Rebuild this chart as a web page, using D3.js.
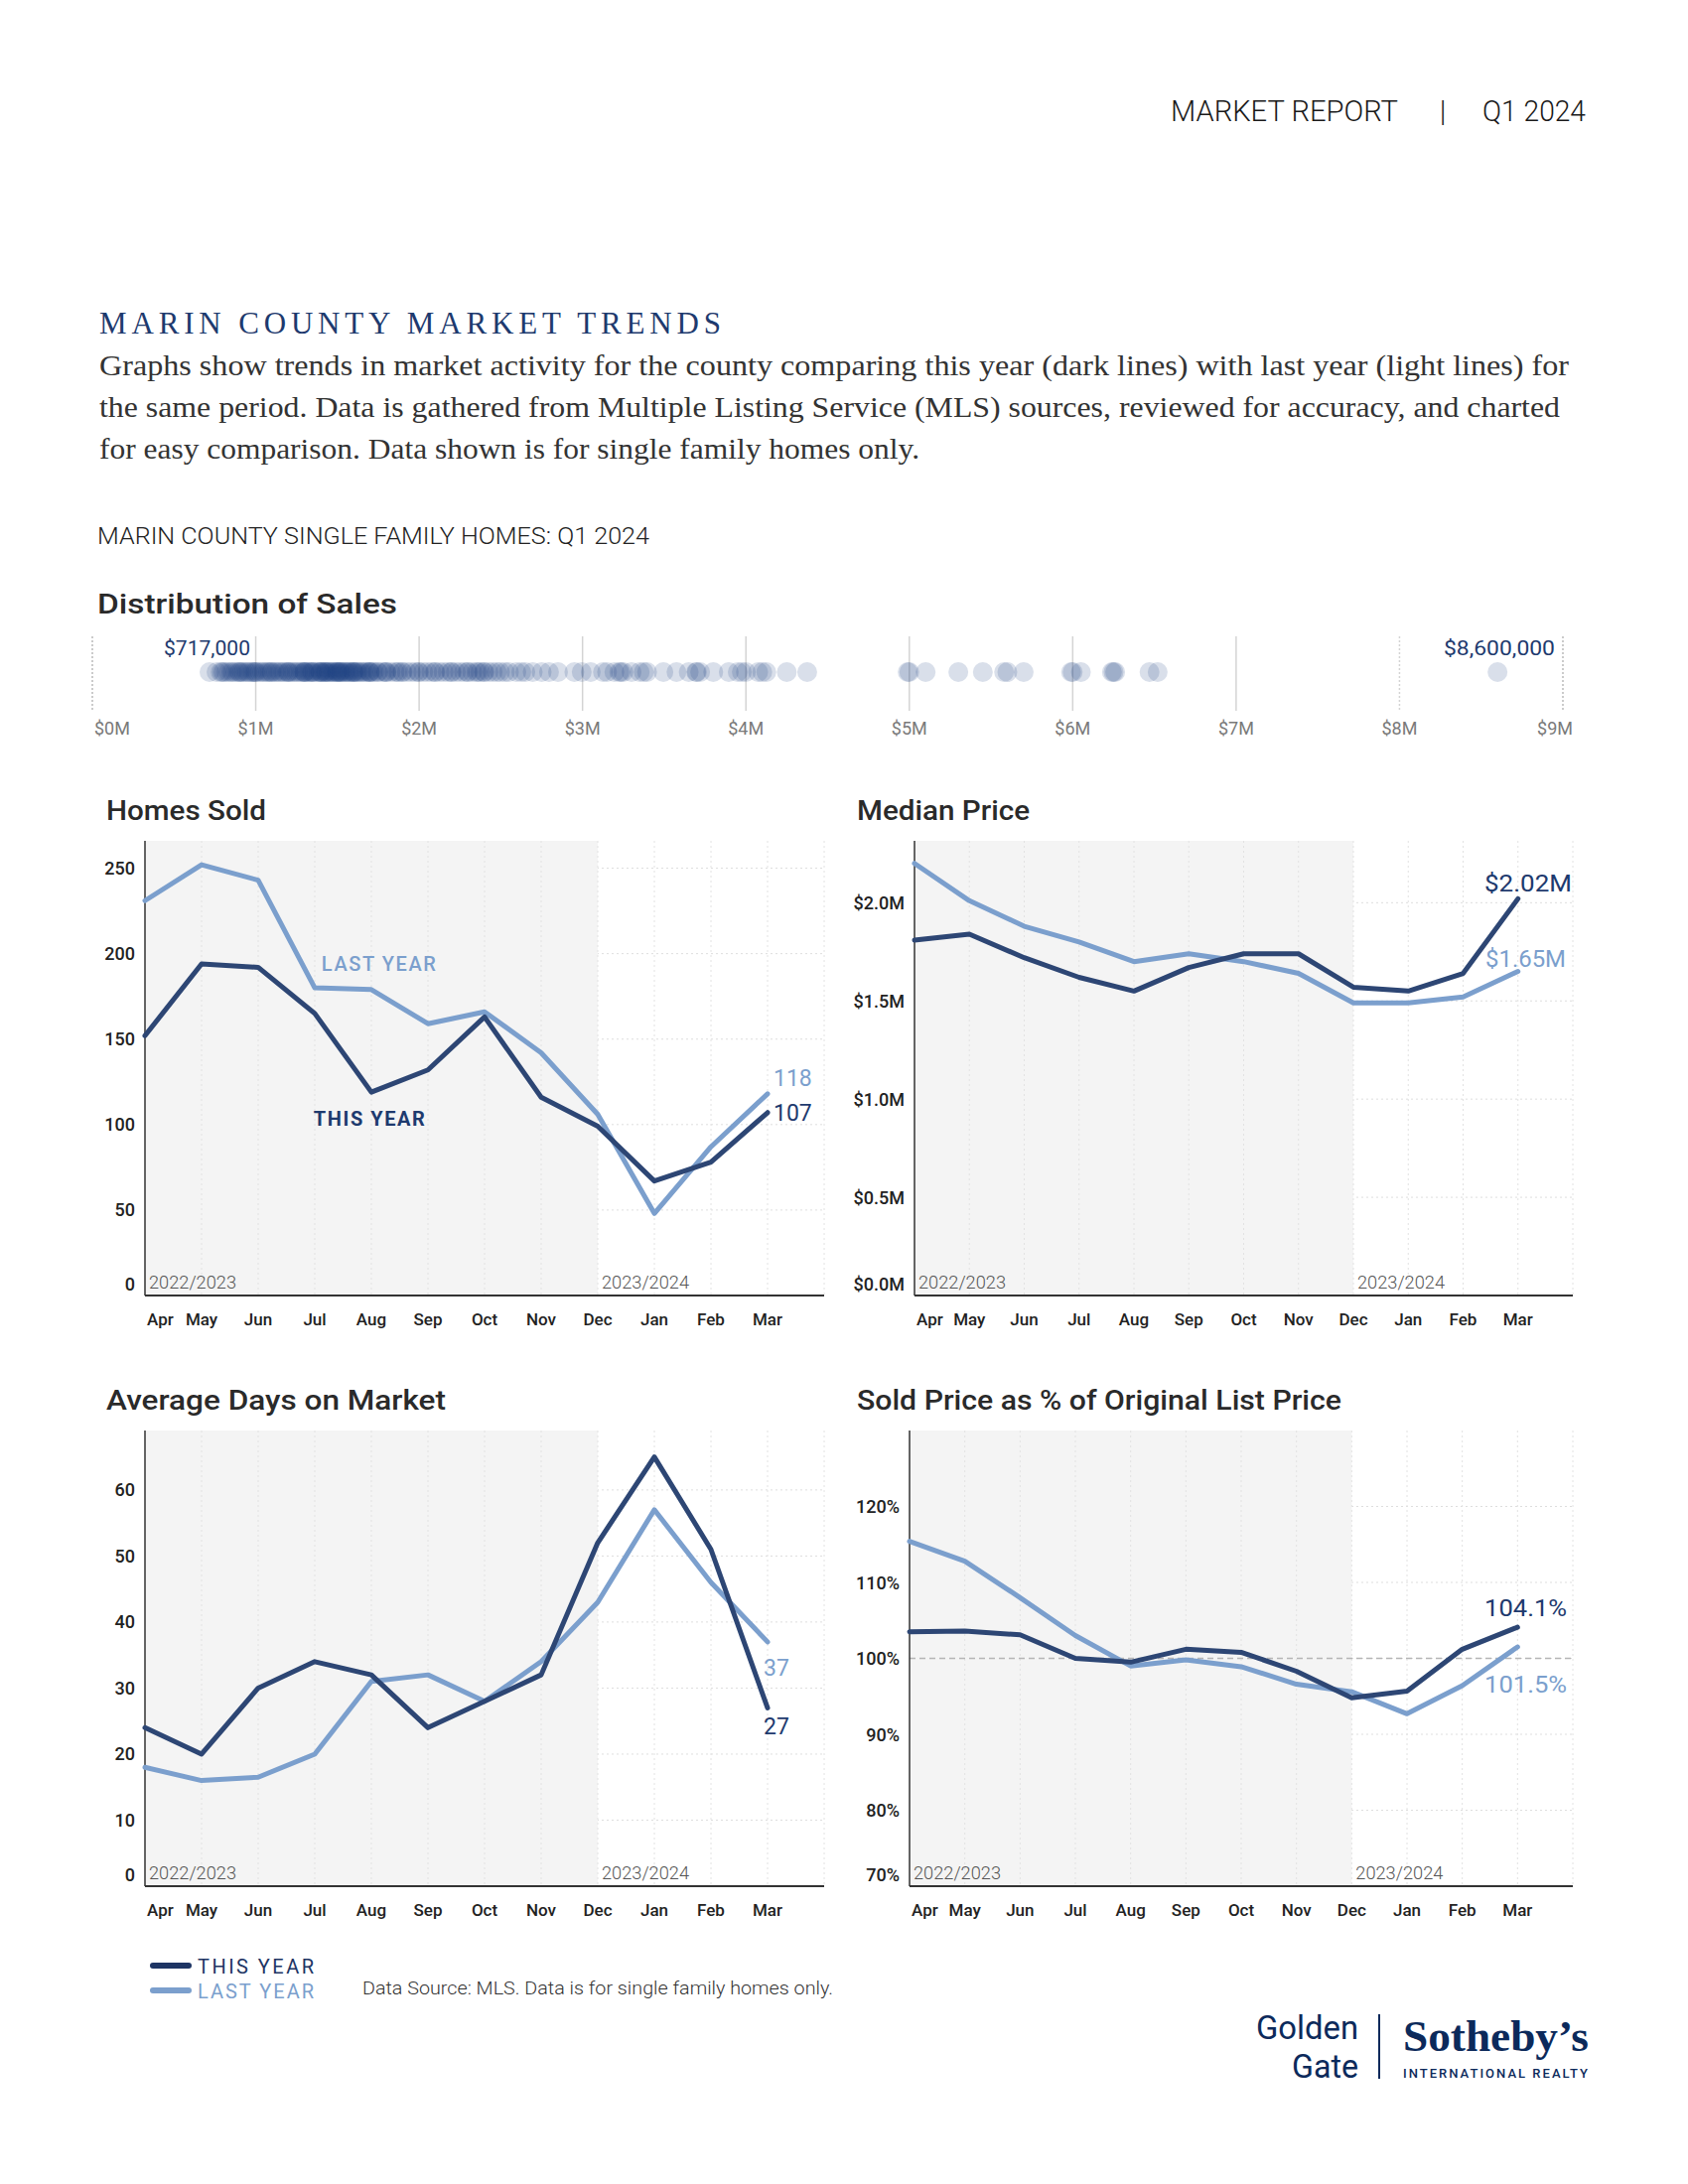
<!DOCTYPE html>
<html><head><meta charset="utf-8">
<script src="https://cdn.jsdelivr.net/npm/d3@7"></script>
<style>body{margin:0;background:#fff} svg{display:block}</style>
</head><body>
<svg id="c" width="1700" height="2200"></svg>
<script>
// ---------------- DATA ----------------
const months = ["Apr","May","Jun","Jul","Aug","Sep","Oct","Nov","Dec","Jan","Feb","Mar"];
const periodLabels = ["2022/2023","2023/2024"];
const homesSoldThis = [152,194,192,165,119,132,163,116,99,67,78,107];
const homesSoldLast = [231,252,243,180,179,159,166,142,106,48,87,118];
const medianThis = [1.81,1.84,1.72,1.62,1.55,1.67,1.74,1.74,1.57,1.55,1.64,2.02];
const medianLast = [2.20,2.01,1.88,1.80,1.70,1.74,1.70,1.64,1.49,1.49,1.52,1.65];
const domThis = [24,20,30,34,32,24,28,32,52,65,51,27];
const domLast = [18,16,16.5,20,31,32,28,34,43,57,46,37];
const pctThis = [103.5,103.6,103.1,100.0,99.5,101.2,100.8,98.3,94.8,95.7,101.2,104.1];
const pctLast = [115.4,112.8,108.0,103.0,99.0,99.8,98.9,96.6,95.6,92.7,96.4,101.5];
const homesTicks = [0,50,100,150,200,250];
const medianTicks = [0,0.5,1.0,1.5,2.0];
const domTicks = [0,10,20,30,40,50,60];
const pctTicks = [70,80,90,100,110,120];
const distTicks = [0,1,2,3,4,5,6,7,8,9];
const distExtremes = [717000, 8600000];
// sale prices, $K
const salesK = [717,760,785,795,
805,820,835,850,860,875,890,899,
905,915,925,940,950,960,975,985,995,
1000,1010,1025,1040,1050,1065,1075,1085,1095,
1100,1115,1125,1140,1150,1165,1175,1190,1199,
1200,1210,1225,1235,1250,1260,1275,1285,1295,1299,
1300,1310,1320,1330,1340,1345,1350,1360,1375,1385,1395,1399,
1400,1410,1420,1425,1430,1435,1445,1450,1460,1470,1475,1485,1495,1499,
1500,1510,1515,1520,1525,1535,1545,1550,1560,1570,1575,1585,1595,1599,
1600,1610,1620,1625,1640,1650,1660,1675,1685,1695,1699,
1700,1715,1725,1745,1750,1775,1790,1799,
1800,1825,1850,1865,1875,1895,
1900,1925,1950,1975,1995,
2000,2025,2050,2075,2095,
2100,2125,2150,2175,2195,
2200,2225,2250,2275,2295,
2300,2325,2350,2360,2375,2395,
2400,2425,2450,2475,2495,
2525,2550,2595,
2625,2650,2695,
2750,2795,
2850,2950,2995,
3050,3125,3150,3195,
3225,3235,3250,3300,3350,3375,3395,
3495,3575,
3650,3695,3700,3720,3800,
3895,3950,3975,4000,
4075,4100,4125,
4250,4375,
4990,5000,5100,5300,5450,5580,5600,5700,5990,6000,6050,6240,6250,6260,6470,6520,8600];

// ---------------- STYLE ----------------
const SANS = "Roboto, 'Noto Sans', 'Liberation Sans', sans-serif";
const SERIF = "'Liberation Serif', 'DejaVu Serif', serif";
const NAVY = "#1e3a6e", DARK = "#2d4674", LIGHT = "#7b9fcd", INK = "#222";

const svg = d3.select("#c");

function addText(parent, str, x, y, o) {
  o = o || {};
  const t = parent.append("text").attr("x", x).attr("y", y).text(str)
    .attr("font-family", o.family || SANS)
    .attr("font-size", o.size || 16)
    .attr("font-weight", o.weight || 400)
    .attr("fill", o.fill || INK);
  if (o.anchor) t.attr("text-anchor", o.anchor);
  if (o.ls) t.attr("letter-spacing", o.ls);
  if (o.len) t.attr("textLength", o.len).attr("lengthAdjust", o.adj || "spacingAndGlyphs");
  return t;
}

// ---------------- HEADER ----------------
addText(svg, "MARKET REPORT", 1179, 122, {size: 30, weight: 300, len: 229, fill: "#1a1a1a"});
addText(svg, "|", 1453, 122, {size: 30, weight: 300, anchor: "middle", fill: "#1a1a1a"});
addText(svg, "Q1 2024", 1493, 122, {size: 30, weight: 300, len: 104, fill: "#1a1a1a"});

addText(svg, "MARIN COUNTY MARKET TRENDS", 100, 336, {family: SERIF, size: 31, fill: NAVY, len: 626, adj: "spacing"});
const para = [
  "Graphs show trends in market activity for the county comparing this year (dark lines) with last year (light lines) for",
  "the same period. Data is gathered from Multiple Listing Service (MLS) sources, reviewed for accuracy, and charted",
  "for easy comparison. Data shown is for single family homes only."
];
const paraLen = [1480, 1471, 826];
para.forEach((s, i) => addText(svg, s, 100, 378 + i * 42, {family: SERIF, size: 29, fill: "#333", len: paraLen[i]}));

addText(svg, "MARIN COUNTY SINGLE FAMILY HOMES: Q1 2024", 98, 548, {size: 23, weight: 300, fill: "#222", len: 556});

// ---------------- DISTRIBUTION ----------------
addText(svg, "Distribution of Sales", 98, 618, {size: 28, weight: 500, fill: "#2a2a2a", len: 302});
const xd = d3.scaleLinear().domain([0, 9]).range([93, 1574]);
const gd = svg.append("g");
gd.selectAll("line.grid").data(distTicks).join("line")
  .attr("x1", d => xd(d)).attr("x2", d => xd(d)).attr("y1", 641).attr("y2", 716)
  .attr("stroke", d => (d === 0 || d === 9) ? "#bbb" : "#d4d4d4")
  .attr("stroke-width", 1.5)
  .attr("stroke-dasharray", d => (d === 0 || d === 9 || d === 8) ? "2,2" : null);
gd.selectAll("text.tick").data(distTicks).join("text")
  .attr("x", d => d === 0 ? xd(d) + 2 : (d === 9 ? xd(d) - 8 : xd(d))).attr("y", 740)
  .attr("text-anchor", d => d === 0 ? "start" : "middle")
  .attr("font-family", SANS).attr("font-size", 18).attr("fill", "#7a7a7a")
  .text(d => "$" + d + "M");
gd.selectAll("circle").data(salesK).join("circle")
  .attr("cx", d => xd(d / 1000)).attr("cy", 677).attr("r", 10)
  .attr("fill", "#1f4282").attr("fill-opacity", 0.17);
const fmtMoney = d3.format("$,");
addText(gd, fmtMoney(distExtremes[0]), 252 - 87, 660, {size: 21, fill: NAVY, len: 87});
addText(gd, fmtMoney(distExtremes[1]), 1566 - 112, 660, {size: 21, fill: NAVY, len: 112});

// ---------------- LINE PANELS ----------------
const panels = [
  {title: "Homes Sold", tx: 107, ty: 826, tlen: 161, x0: 146, x1: 830, top: 847, bottom: 1305,
   domain: [0, 266], ticks: homesTicks, tfmt: d => d, thisV: homesSoldThis, lastV: homesSoldLast,
   efmt: d => d3.format("d")(d),
   endThis: {dx: 6, dy: 8.5, anchor: "start"}, endLast: {dx: 6, dy: -7.6, anchor: "start"},
   notes: [{t: "LAST YEAR", i: 3.12, v: 190, fill: LIGHT, weight: 500, len: 115},
           {t: "THIS YEAR", i: 2.98, v: 99.3, fill: NAVY, weight: 700, len: 112}]},
  {title: "Median Price", tx: 863, ty: 826, tlen: 174, x0: 921, x1: 1584, top: 847, bottom: 1305,
   domain: [0, 2.315], ticks: medianTicks, tfmt: d => "$" + d.toFixed(1) + "M", thisV: medianThis, lastV: medianLast,
   efmt: d => "$" + d.toFixed(2) + "M",
   endThis: {endX: 1583, dy: -7.4, len: 88}, endLast: {endX: 1577, dy: -4.6, len: 81}, notes: []},
  {title: "Average Days on Market", tx: 107, ty: 1420, tlen: 342, x0: 146, x1: 830, top: 1441, bottom: 1900,
   domain: [0, 69], ticks: domTicks, tfmt: d => d, thisV: domThis, lastV: domLast,
   efmt: d => d3.format("d")(d),
   endThis: {dx: -4, dy: 27, anchor: "start"}, endLast: {dx: -4, dy: 34, anchor: "start"}, notes: []},
  {title: "Sold Price as % of Original List Price", tx: 863, ty: 1420, tlen: 488, x0: 916, x1: 1584, top: 1441, bottom: 1900,
   domain: [70, 130], ticks: pctTicks, tfmt: d => d + "%", thisV: pctThis, lastV: pctLast,
   efmt: d => d.toFixed(1) + "%", ref: 100,
   endThis: {endX: 1578, dy: -11, len: 83}, endLast: {endX: 1578, dy: 46, len: 83}, notes: []}
];

panels.forEach(p => {
  const g = svg.append("g");
  const x = d3.scaleLinear().domain([0, 12]).range([p.x0, p.x1]);
  const y = d3.scaleLinear().domain(p.domain).range([p.bottom, p.top]);

  addText(g, p.title, p.tx, p.ty, {size: 28, weight: 500, fill: "#2a2a2a", len: p.tlen});

  // horizontal grid (under shading)
  g.selectAll("line.hg").data(p.ticks.slice(1)).join("line")
    .attr("x1", p.x0).attr("x2", p.x1).attr("y1", d => y(d)).attr("y2", d => y(d))
    .attr("stroke", "#dedede").attr("stroke-width", 1).attr("stroke-dasharray", "2,3");
  // shaded previous-period area
  g.append("rect").attr("x", x(0)).attr("y", p.top).attr("width", x(8) - x(0)).attr("height", p.bottom - p.top)
    .attr("fill", "#f4f4f4");
  // vertical grid
  g.selectAll("line.vg").data(d3.range(1, 13)).join("line")
    .attr("x1", d => x(d)).attr("x2", d => x(d)).attr("y1", p.top).attr("y2", p.bottom)
    .attr("stroke", "#e2e2e2").attr("stroke-width", 1).attr("stroke-dasharray", "2,3");
  if (p.ref !== undefined) {
    g.append("line").attr("x1", p.x0).attr("x2", p.x1).attr("y1", y(p.ref)).attr("y2", y(p.ref))
      .attr("stroke", "#b5b5b5").attr("stroke-width", 1.3).attr("stroke-dasharray", "6,4");
  }
  // axes
  g.append("line").attr("x1", p.x0).attr("x2", p.x0).attr("y1", p.top).attr("y2", p.bottom)
    .attr("stroke", "#333").attr("stroke-width", 1.5);
  g.append("line").attr("x1", p.x0).attr("x2", p.x1).attr("y1", p.bottom).attr("y2", p.bottom)
    .attr("stroke", "#333").attr("stroke-width", 2.2);

  // y tick labels
  g.selectAll("text.yt").data(p.ticks).join("text")
    .attr("x", p.x0 - 10).attr("y", (d, i) => i === 0 ? y(d) - 5 : y(d) + 6.5)
    .attr("text-anchor", "end").attr("font-family", SANS).attr("font-size", 18).attr("font-weight", 500)
    .attr("fill", INK).text(p.tfmt);
  // month labels
  g.selectAll("text.xt").data(months).join("text")
    .attr("x", (d, i) => i === 0 ? x(0) + 2 : x(i)).attr("y", p.bottom + 30)
    .attr("text-anchor", (d, i) => i === 0 ? "start" : "middle")
    .attr("font-family", SANS).attr("font-size", 17).attr("font-weight", 500).attr("fill", INK)
    .text(d => d);
  // period labels
  [0, 8].forEach((idx, k) => addText(g, periodLabels[k], x(idx) + 4, p.bottom - 7,
    {size: 18, weight: 300, fill: "#555", len: 88}));

  // lines
  const line = d3.line().x((d, i) => x(i)).y(d => y(d));
  g.append("path").datum(p.lastV).attr("d", line).attr("fill", "none").attr("stroke", LIGHT)
    .attr("stroke-width", 5).attr("stroke-linejoin", "round").attr("stroke-linecap", "round");
  g.append("path").datum(p.thisV).attr("d", line).attr("fill", "none").attr("stroke", DARK)
    .attr("stroke-width", 5).attr("stroke-linejoin", "round").attr("stroke-linecap", "round");

  // end labels
  const last = 11;
  [[p.thisV, p.endThis, NAVY], [p.lastV, p.endLast, LIGHT]].forEach(([vals, e, col]) => {
    const v = vals[last];
    const yy = y(v) + e.dy;
    if (e.endX !== undefined) {
      addText(g, p.efmt(v), e.endX - e.len, yy, {size: 23, fill: col, len: e.len});
    } else {
      addText(g, p.efmt(v), x(last) + e.dx, yy, {size: 23, fill: col});
    }
  });
  // inline series notes
  p.notes.forEach(n => addText(g, n.t, x(n.i), y(n.v), {size: 20, weight: n.weight, fill: n.fill, len: n.len, adj: "spacing"}));
});

// ---------------- LEGEND & SOURCE ----------------
const lg = svg.append("g");
[["THIS YEAR", "#1e3564", 1980], ["LAST YEAR", LIGHT, 2005]].forEach(([t, c, yy]) => {
  lg.append("line").attr("x1", 154).attr("x2", 190).attr("y1", yy).attr("y2", yy)
    .attr("stroke", c).attr("stroke-width", 6).attr("stroke-linecap", "round");
  addText(lg, t, 199, yy + 7.5, {size: 20, fill: c, len: 117, adj: "spacing"});
});
addText(lg, "Data Source: MLS. Data is for single family homes only.", 365, 2009, {size: 18, weight: 300, fill: "#333", len: 474});

// ---------------- LOGO ----------------
const LOGO = "#0c2a5b";
addText(svg, "Golden", 1265, 2054, {size: 33, fill: LOGO, len: 103});
addText(svg, "Gate", 1301, 2093, {size: 33, fill: LOGO, len: 67});
svg.append("line").attr("x1", 1389).attr("x2", 1389).attr("y1", 2029).attr("y2", 2094).attr("stroke", LOGO).attr("stroke-width", 2);
addText(svg, "Sotheby\u2019s", 1413, 2066, {family: SERIF, size: 44, weight: 700, fill: LOGO, len: 187});
addText(svg, "INTERNATIONAL REALTY", 1413, 2093, {size: 13, weight: 500, fill: LOGO, len: 186, adj: "spacing"});
</script>
</body></html>
